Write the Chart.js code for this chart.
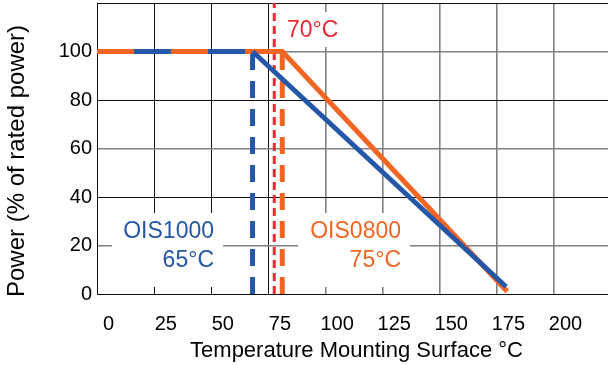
<!DOCTYPE html>
<html>
<head>
<meta charset="utf-8">
<script src="https://cdn.jsdelivr.net/npm/chart.js"></script>
<style>
  html, body { margin: 0; padding: 0; background: #fff; }
  #wrap { width: 608px; height: 365px; }
</style>
</head>
<body>
<div id="wrap"><canvas id="c"></canvas></div>
<script>
// temperature (°C) along the bottom, power (% of rated) up the side
const tempLabels = [0, 25, 50, 75, 100, 125, 150, 175, 200];
const gridTemps = [-5.1, 19.9, 44.9, 69.9, 94.9, 119.9, 144.9, 169.9, 194.9];
const powerLabels = [0, 20, 40, 60, 80, 100, 120];

// derating curves
const ois1000Temp = [-5.1, 63, 174];
const ois1000Power = [100, 100, 3];
const ois0800Temp = [-5.1, 76, 174.5];
const ois0800Power = [100, 100, 1];

// knee markers
const ois1000Knee = 63;
const ois0800Knee = 76;
const limitTemp = 72.5;

const BLUE = '#2457a7', ORANGE = '#f26522', RED = '#ec2a33';
const FONT = "'Liberation Sans', Arial, sans-serif";
const X_MIN = -5.1, X_MAX = 218.6;

function pts(xs, ys) {
  return xs.map((x, i) => ({ x: x, y: ys[i] }));
}

const annotations = {
  id: 'annotations',
  beforeDatasetsDraw(chart) {
    const ctx = chart.ctx;
    ctx.save();
    ctx.fillStyle = '#fff';
    ctx.fillRect(112, 213, 111, 74);
    ctx.fillRect(298, 213, 112, 74);
    ctx.fillRect(279, 12, 67, 35);
    ctx.restore();
  },
  afterDraw(chart) {
    const ctx = chart.ctx;
    ctx.save();
    ctx.font = '23px ' + FONT;
    ctx.textBaseline = 'alphabetic';
    ctx.textAlign = 'right';
    ctx.fillStyle = BLUE;
    ctx.fillText('OIS1000', 214, 238);
    ctx.fillText('65°C', 214, 267);
    ctx.fillStyle = ORANGE;
    ctx.fillText('OIS0800', 401, 238);
    ctx.fillText('75°C', 401, 267);
    ctx.textAlign = 'left';
    ctx.fillStyle = RED;
    ctx.fillText('70°C', 287, 37);

    ctx.fillStyle = '#000';
    ctx.font = '22px ' + FONT;
    ctx.textAlign = 'center';
    ctx.fillText('Temperature Mounting Surface °C', 356.5, 357);

    ctx.translate(17, 161);
    ctx.rotate(-Math.PI / 2);
    ctx.font = '24px ' + FONT;
    ctx.textBaseline = 'middle';
    ctx.fillText('Power (% of rated power)', 0, 0);
    ctx.restore();
  }
};

new Chart(document.getElementById('c'), {
  type: 'line',
  data: {
    datasets: [
      {
        data: pts(ois1000Temp, ois1000Power),
        borderColor: BLUE,
        borderWidth: 5,
        pointRadius: 0,
        segment: {
          borderDash: c => c.p0DataIndex === 0 ? [37, 37] : undefined,
          borderDashOffset: c => c.p0DataIndex === 0 ? 37 : undefined
        }
      },
      {
        data: pts(ois0800Temp, ois0800Power),
        borderColor: ORANGE,
        borderWidth: 5,
        pointRadius: 0
      },
      {
        data: pts([ois1000Knee, ois1000Knee], [0, 100]),
        borderColor: BLUE,
        borderWidth: 5,
        borderDash: [17, 11],
        pointRadius: 0
      },
      {
        data: pts([ois0800Knee, ois0800Knee], [0, 100]),
        borderColor: ORANGE,
        borderWidth: 5,
        borderDash: [17, 11],
        pointRadius: 0
      },
      {
        data: pts([limitTemp, limitTemp], [0, 120]),
        borderColor: RED,
        borderWidth: 3,
        borderDash: [8, 5],
        pointRadius: 0
      }
    ]
  },
  options: {
    responsive: true,
    maintainAspectRatio: false,
    devicePixelRatio: 1,
    animation: false,
    layout: { padding: { top: 3, left: 0, right: 0, bottom: 0 } },
    plugins: { legend: { display: false }, tooltip: { enabled: false } },
    scales: {
      x: {
        type: 'linear',
        position: 'bottom',
        min: X_MIN,
        max: X_MAX,
        afterBuildTicks: s => { s.ticks = tempLabels.map(v => ({ value: v })); },
        afterFit: s => { s.height = 71; s.paddingLeft = 0; s.paddingRight = 0; },
        grid: { display: false },
        border: { display: false },
        ticks: {
          autoSkip: false,
          maxRotation: 0,
          padding: 10,
          color: '#000',
          font: { family: FONT, size: 20 }
        }
      },
      x2: {
        type: 'linear',
        position: 'bottom',
        min: X_MIN,
        max: X_MAX,
        afterBuildTicks: s => { s.ticks = gridTemps.map(v => ({ value: v })); },
        afterFit: s => { s.height = 0; s.paddingLeft = 0; s.paddingRight = 0; },
        border: { display: false },
        ticks: { display: false },
        grid: {
          drawTicks: false,
          color: c => c.index <= 3 ? '#111' : '#808080',
          lineWidth: c => c.index <= 3 ? 1 : 1.6
        }
      },
      y: {
        min: 0,
        max: 120,
        afterBuildTicks: s => { s.ticks = powerLabels.map(v => ({ value: v })); },
        afterFit: s => { s.width = 97; s.paddingTop = 0; s.paddingBottom = 0; },
        border: { display: true, color: '#111', width: 1 },
        grid: {
          drawTicks: false,
          color: c => (c.tick.value / 20) % 2 === 0 ? '#111' : '#808080',
          lineWidth: c => (c.tick.value / 20) % 2 === 0 ? 1 : 1.6
        },
        ticks: {
          padding: 5,
          color: '#000',
          font: { family: FONT, size: 20 },
          callback: v => v === 120 ? '' : v
        }
      }
    }
  },
  plugins: [annotations]
});
</script>
</body>
</html>
